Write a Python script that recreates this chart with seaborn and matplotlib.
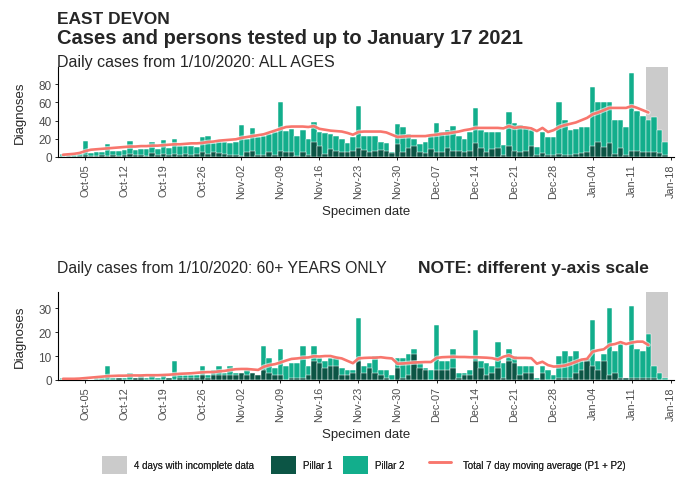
import numpy as np
import pandas as pd
import matplotlib
matplotlib.use("Agg")
import matplotlib.pyplot as plt
import matplotlib.patheffects as pe
from matplotlib.patches import Patch
from matplotlib.lines import Line2D
import seaborn as sns

# ---- data -------------------------------------------------------------
start_date = "2020-10-01"
end_date = "2021-01-17"
incomplete_from = "2021-01-14"
incomplete_to = "2021-01-17"

tick_dates = ["2020-10-05", "2020-10-12", "2020-10-19", "2020-10-26", "2020-11-02",
              "2020-11-09", "2020-11-16", "2020-11-23", "2020-11-30", "2020-12-07",
              "2020-12-14", "2020-12-21", "2020-12-28", "2021-01-04", "2021-01-11",
              "2021-01-18"]
tick_labels = ["Oct-05", "Oct-12", "Oct-19", "Oct-26", "Nov-02", "Nov-09", "Nov-16",
               "Nov-23", "Nov-30", "Dec-07", "Dec-14", "Dec-21", "Dec-28", "Jan-04",
               "Jan-11", "Jan-18"]

# All ages
all_p1 = [0, 1, 0, 1, 2, 1, 1, 2, 1, 2, 1, 2, 3, 2, 2, 1, 4, 2, 3, 2,
          3, 2, 3, 2, 3, 5, 3, 6, 4, 3, 2, 2, 1, 5, 7, 2, 2, 5, 2, 7,
          5, 5, 1, 5, 2, 16, 12, 3, 9, 7, 5, 5, 7, 10, 8, 5, 7, 8, 7, 4,
          14, 5, 10, 12, 5, 4, 9, 6, 5, 10, 7, 7, 5, 7, 15, 10, 5, 9, 10, 2,
          12, 7, 5, 7, 12, 2, 4, 2, 2, 3, 2, 2, 3, 4, 5, 12, 17, 11, 15, 3,
          10, 2, 7, 7, 6, 6, 6, 4, 2]
all_p2 = [3, 2, 2, 2, 16, 3, 4, 4, 13, 5, 6, 6, 15, 6, 7, 8, 13, 7, 16, 8,
          17, 10, 9, 10, 8, 17, 20, 9, 12, 13, 13, 14, 34, 15, 25, 20, 21, 20, 25, 54,
          24, 26, 22, 25, 18, 23, 15, 23, 16, 16, 15, 10, 15, 46, 15, 18, 16, 9, 8, 2,
          22, 28, 15, 8, 9, 13, 14, 31, 23, 20, 27, 16, 15, 21, 39, 20, 23, 19, 18, 11,
          38, 30, 30, 26, 18, 9, 24, 20, 20, 57, 39, 28, 28, 29, 28, 65, 44, 50, 45, 38,
          31, 31, 85, 44, 39, 35, 38, 26, 14]
all_avg = [2.5, 3, 3.5, 4.5, 6.5, 8, 8.5, 9, 9.5, 10, 10.5, 11, 11.5, 11.5, 12, 12,
           12.5, 12.5, 13, 13.5, 14, 14, 14.5, 15, 15, 15.5, 16.5, 17, 18, 18.5, 19, 19.5,
           21, 22, 23, 24, 25, 27, 29, 31, 33, 33.5, 33.5, 33.5, 33, 34, 31, 30,
           29, 28.5, 28, 26.5, 24.5, 27.5, 28, 28, 28, 28, 27, 24.5, 22, 22.5,
           23, 23, 23, 23, 24, 24.5, 25.5, 26, 27, 28, 29.5, 30.5, 32, 32, 32, 32,
           32, 31.5, 34, 32, 33, 32.5, 31.5, 28.5, 32, 27.5, 29.5, 33, 35, 36.5,
           38, 40.5, 43, 47, 49, 51.5, 54, 54, 54, 54, 56, 54, 51.5, 49]

# 60+ years
old_p1 = [0, 0, 0, 0, 0, 0, 0, 0, 0, 0, 1, 0, 0, 1, 1, 0, 0, 0, 0, 1,
          0, 1, 1, 1, 1, 2, 1, 2, 2, 2, 2, 2, 3, 2, 3, 2, 4, 3, 2, 2,
          0, 1, 1, 1, 2, 8, 7, 5, 6, 6, 2, 2, 3, 8, 3, 5, 3, 2, 1, 0,
          5, 1, 2, 11, 5, 4, 0, 4, 4, 4, 5, 1, 2, 2, 8, 5, 2, 3, 5, 1,
          8, 7, 2, 3, 3, 0, 3, 0, 0, 1, 1, 1, 3, 4, 8, 6, 4, 8, 2, 3,
          1, 1, 1, 1, 1, 1, 1, 0, 0]
old_p2 = [1, 0, 0, 0, 1, 0, 1, 1, 6, 1, 0, 1, 3, 0, 1, 1, 2, 1, 2, 0,
          8, 1, 1, 1, 1, 4, 1, 2, 4, 1, 4, 1, 0, 2, 0, 0, 10, 6, 3, 11,
          6, 6, 6, 13, 4, 6, 2, 3, 3, 3, 3, 2, 1, 18, 3, 2, 7, 2, 3, 2,
          4, 8, 9, 2, 2, 1, 4, 19, 4, 4, 8, 2, 1, 2, 13, 3, 5, 3, 11, 6,
          5, 3, 4, 3, 3, 1, 3, 4, 2, 9, 11, 9, 9, 4, 1, 19, 4, 3, 28, 9,
          14, 0, 30, 12, 11, 18, 5, 3, 1]
old_avg = [0.5, 0.5, 0.5, 0.6, 0.8, 1.0, 1.2, 1.4, 1.6, 1.7, 1.8, 1.8, 1.9, 1.9, 1.9, 2.0,
           2.0, 2.0, 2.1, 2.2, 2.4, 2.6, 2.7, 2.8, 3.0, 3.2, 3.3, 3.3, 3.6, 3.8, 4.2, 4.5,
           4.6, 4.6, 4.4, 4.2, 5.5, 6.2, 6.6, 7.3, 8.1, 8.8, 9.0, 9.3, 9.4, 9.9, 9.8, 10.0,
           10.0, 9.4, 9.0, 8.0, 7.0, 9.0, 9.2, 9.3, 9.3, 9.5, 9.2, 9.0, 6.8, 6.9,
           7.1, 7.3, 7.4, 7.5, 7.5, 9.2, 9.5, 9.6, 9.7, 9.6, 9.6, 9.5, 9.5, 9.4,
           9.3, 9.1, 8.5, 9.7, 10.3, 9.2, 9.2, 9.2, 9.1, 6.8, 7.6, 6.2, 5.6, 5.7,
           6.0, 6.7, 7.6, 8.5, 8.8, 11.8, 12.4, 12.8, 14.6, 15.0, 15.8, 15.0, 15.6, 16.0,
           16.0, 14.6]

legend_labels = ["4 days with incomplete data", "Pillar 1", "Pillar 2",
                 "Total 7 day moving average (P1 + P2)"]

# ---- styling ----------------------------------------------------------
sns.set_theme(style="ticks")
plt.rcParams["font.family"] = ["Liberation Sans", "DejaVu Sans"]

C_P1 = "#0c5545"
C_P2 = "#12ae8c"
C_GREY = "#cbcbcb"
C_AVG = "#f8766d"
TXT = "#4d4d4d"

dates = pd.date_range(start_date, end_date, freq="D")
t0 = dates[0]


def day_index(d):
    return (pd.Timestamp(d) - t0).days


days = np.arange(len(dates))


def panel(ax, p1, p2, avg, ymax, yticks):
    p1 = np.asarray(p1, float)
    p2 = np.asarray(p2, float)
    total = p1 + p2
    ax.axvspan(day_index(incomplete_from) - 0.5, day_index(incomplete_to) + 0.5,
               color=C_GREY, lw=0, zorder=0)
    sns.barplot(x=days, y=total, native_scale=True, color=C_P2, width=1.0,
                edgecolor="white", linewidth=0.35, errorbar=None, ax=ax,
                saturation=1, zorder=2)
    sns.barplot(x=days, y=p1, native_scale=True, color=C_P1, width=1.0,
                edgecolor="white", linewidth=0.35, errorbar=None, ax=ax,
                saturation=1, zorder=3)
    sns.lineplot(x=days[:len(avg)], y=avg, color=C_AVG, lw=1.9, ax=ax, zorder=4,
                 path_effects=[pe.Stroke(linewidth=3.4, foreground="white", alpha=0.6),
                               pe.Normal()])
    ax.set_xlim(-0.9, 109.6)
    ax.set_ylim(0, ymax)
    ax.set_yticks(yticks)
    ax.set_xticks([day_index(d) for d in tick_dates])
    ax.set_xticklabels(tick_labels, rotation=90, fontsize=7.8, color=TXT)
    ax.tick_params(axis="y", labelsize=8.5, labelcolor=TXT, length=2.5, width=0.7, pad=2)
    ax.tick_params(axis="x", length=2.5, width=0.7, pad=2)
    for s in ["top", "right"]:
        ax.spines[s].set_visible(False)
    for s in ["left", "bottom"]:
        ax.spines[s].set_color("black")
        ax.spines[s].set_linewidth(0.8)
    ax.set_ylabel("Diagnoses", fontsize=9.5, labelpad=9)
    ax.set_xlabel("Specimen date", fontsize=9.5, labelpad=5)


fig = plt.figure(figsize=(6.76, 4.85), dpi=100)
H = 485.0
W = 676.0

ax1 = fig.add_axes([58 / W, 1 - 158 / H, (674 - 58) / W, 90 / H])
panel(ax1, all_p1, all_p2, all_avg, 99, [0, 20, 40, 60, 80])

ax2 = fig.add_axes([58 / W, 1 - 381 / H, (674 - 58) / W, 88 / H])
panel(ax2, old_p1, old_p2, old_avg, 36.7, [0, 10, 20, 30])

fig.text(57 / W, 1 - 19 / H, "EAST DEVON", fontsize=12.5, fontweight="bold", va="center")
fig.text(57 / W, 1 - 39 / H, "Cases and persons tested up to January 17 2021",
         fontsize=14.5, fontweight="bold", va="center")
fig.text(57 / W, 1 - 62 / H, "Daily cases from 1/10/2020: ALL AGES", fontsize=11.5,
         va="center")
fig.text(57 / W, 1 - 268 / H, "Daily cases from 1/10/2020: 60+ YEARS ONLY",
         fontsize=11.3, va="center")
fig.text(418 / W, 1 - 268 / H, "NOTE: different y-axis scale", fontsize=12.5,
         fontweight="bold", va="center")

# legend entries placed one by one along the bottom row
legend_handles = [Patch(facecolor=C_GREY, edgecolor="none"),
                  Patch(facecolor=C_P1, edgecolor="none"),
                  Patch(facecolor=C_P2, edgecolor="none"),
                  Line2D([], [], color=C_AVG, lw=1.8)]
legend_x = [102, 271, 343, 429]
for h, lab, x in zip(legend_handles, legend_labels, legend_x):
    is_line = isinstance(h, Line2D)
    lg = fig.legend([h], [lab], loc="center left",
                    bbox_to_anchor=(x / W, 1 - 466 / H), frameon=False,
                    fontsize=7, borderpad=0, borderaxespad=0,
                    handlelength=2.3 if is_line else 2.55,
                    handleheight=2.5, handletextpad=1.2 if is_line else 0.75)
    fig.add_artist(lg)

fig.savefig("out.png", dpi=100)
